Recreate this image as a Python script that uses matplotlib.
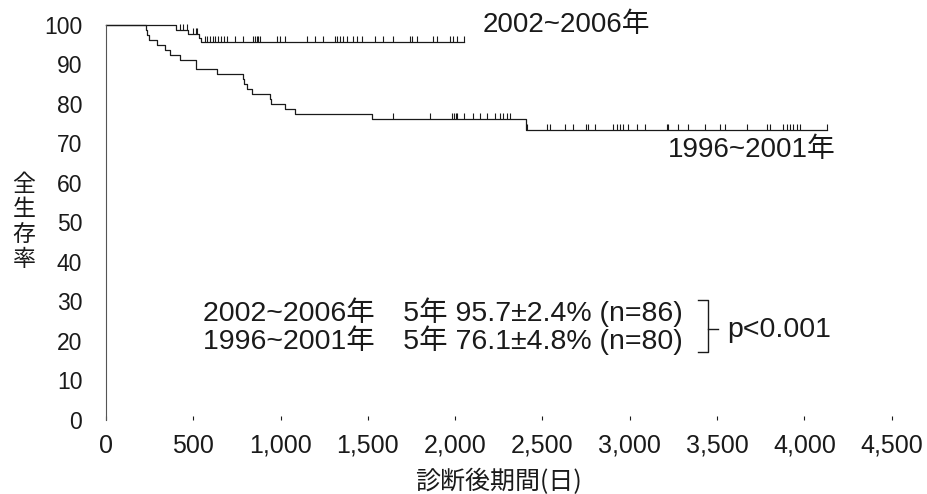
import numpy as np
import matplotlib
matplotlib.use("Agg")
import matplotlib.pyplot as plt
from matplotlib.lines import Line2D

# 2002~2006年 (n=86): event days, survival after each step, censored days
recent_event_days = [401, 471, 535, 545]
recent_event_surv = [98.8, 97.6, 96.6, 95.7]
recent_censor_days = [424, 443, 462, 500, 513, 523, 567, 580, 596, 611, 624,
                      643, 657, 676, 691, 739, 786, 844, 853, 863, 872, 882,
                      977, 997, 1025, 1149, 1197, 1245, 1311, 1325, 1340, 1355,
                      1378, 1416, 1439, 1464, 1541, 1588, 1645, 1741, 1752,
                      1779, 1874, 1894, 1970, 1989, 2008, 2050]
recent_end_day = 2052

# 1996~2001年 (n=80)
old_event_days = [228, 236, 245, 290, 338, 367, 424, 514, 518, 634, 786, 792,
                  806, 838, 939, 947, 1025, 1082, 1521, 2403]
old_event_surv = [98.75, 97.5, 96.25, 95.0, 93.75, 92.5, 91.25, 90.0, 88.75,
                  87.5, 86.25, 85.0, 83.75, 82.5, 81.25, 80.0, 78.75, 77.5,
                  76.25, 73.4]
old_censor_days = [1645, 1855, 1980, 1995, 2005, 2013, 2050, 2100, 2140,
                   2182, 2228, 2256, 2274, 2296, 2314, 2409, 2524, 2543, 2629,
                   2675, 2749, 2760, 2800, 2905, 2925, 2944, 2963, 2991, 3039,
                   3087, 3211, 3219, 3278, 3335, 3431, 3516, 3545, 3669, 3784,
                   3802, 3879, 3898, 3917, 3936, 3956, 3975, 4127]
old_end_day = 4127

x_ticks = [0, 500, 1000, 1500, 2000, 2500, 3000, 3500, 4000, 4500]
x_tick_labels = ["0", "500", "1,000", "1,500", "2,000", "2,500", "3,000",
                 "3,500", "4,000", "4,500"]
y_ticks = list(range(0, 101, 10))

INK = "#1a1a1a"
plt.rcParams["font.family"] = ["Liberation Sans", "Noto Sans CJK JP", "DejaVu Sans"]


def km_path(event_days, event_surv, end_day):
    days = np.array([0] + list(event_days) + [end_day], dtype=float)
    surv = np.array([100.0] + list(event_surv) + [event_surv[-1]])
    return days, surv


def surv_at(days, surv, t):
    idx = np.searchsorted(days, t, side="right") - 1
    return surv[np.clip(idx, 0, len(surv) - 1)]


fig = plt.figure(figsize=(9.27, 4.94), dpi=100)
ax = fig.add_axes([0.1143, 0.1498, 0.8476, 0.7996])

for ev_d, ev_s, end, cens in [
    (recent_event_days, recent_event_surv, recent_end_day, recent_censor_days),
    (old_event_days, old_event_surv, old_end_day, old_censor_days),
]:
    d, s = km_path(ev_d, ev_s, end)
    ax.plot(d, s, drawstyle="steps-post", color=INK, lw=0.9, clip_on=False)
    c = np.array(cens, dtype=float)
    ax.plot(c, surv_at(d, s, c), linestyle="none", marker=2, markersize=4,
            markeredgewidth=0.8, color=INK, clip_on=False)

ax.set_xlim(0, 4500)
ax.set_ylim(0, 100)
for side in ["top", "right", "bottom"]:
    ax.spines[side].set_visible(False)
ax.spines["left"].set_color("#555555")
ax.spines["left"].set_linewidth(0.8)

ax.set_xticks(x_ticks)
ax.set_xticklabels(x_tick_labels)
ax.set_yticks(y_ticks)
ax.tick_params(axis="x", direction="in", length=3, width=0.8, colors=INK,
               labelsize=18, pad=10)
ax.tick_params(axis="y", length=0, colors=INK, labelsize=16.5, pad=17)

ax.text(2159, 100, "2002~2006年", fontsize=20, color=INK, va="center", ha="left")
ax.text(3219, 68.4, "1996~2001年", fontsize=20, color=INK, va="center", ha="left")

ax.text(556, 27.3, "2002~2006年\u30005年 95.7±2.4% (n=86)", fontsize=20.5,
        color=INK, va="center", ha="left")
ax.text(556, 20.3, "1996~2001年\u30005年 76.1±4.8% (n=80)", fontsize=20.5,
        color=INK, va="center", ha="left")
ax.text(3557, 22.8, "p<0.001", fontsize=20.5, color=INK, va="center", ha="left")

# bracket joining the two lines
W, H = 927.0, 494.0
bx = [698, 708, 708, 698]
by = [300, 300, 352, 352]
fig.add_artist(Line2D([x / W for x in bx], [1 - y / H for y in by],
                      color=INK, lw=1.0))
fig.add_artist(Line2D([708 / W, 718 / W], [1 - 329 / H, 1 - 329 / H],
                      color=INK, lw=1.0))

fig.text(24 / W, 1 - 222 / H, "全\n生\n存\n率", fontsize=16.5, color=INK,
         ha="center", va="center", linespacing=1.12, family="Noto Sans CJK JP")
fig.text(498 / W, 1 - 482 / H, "診断後期間(日)", fontsize=18, color=INK,
         ha="center", va="center", family="Noto Sans CJK JP")

fig.savefig("out.png", dpi=100)
